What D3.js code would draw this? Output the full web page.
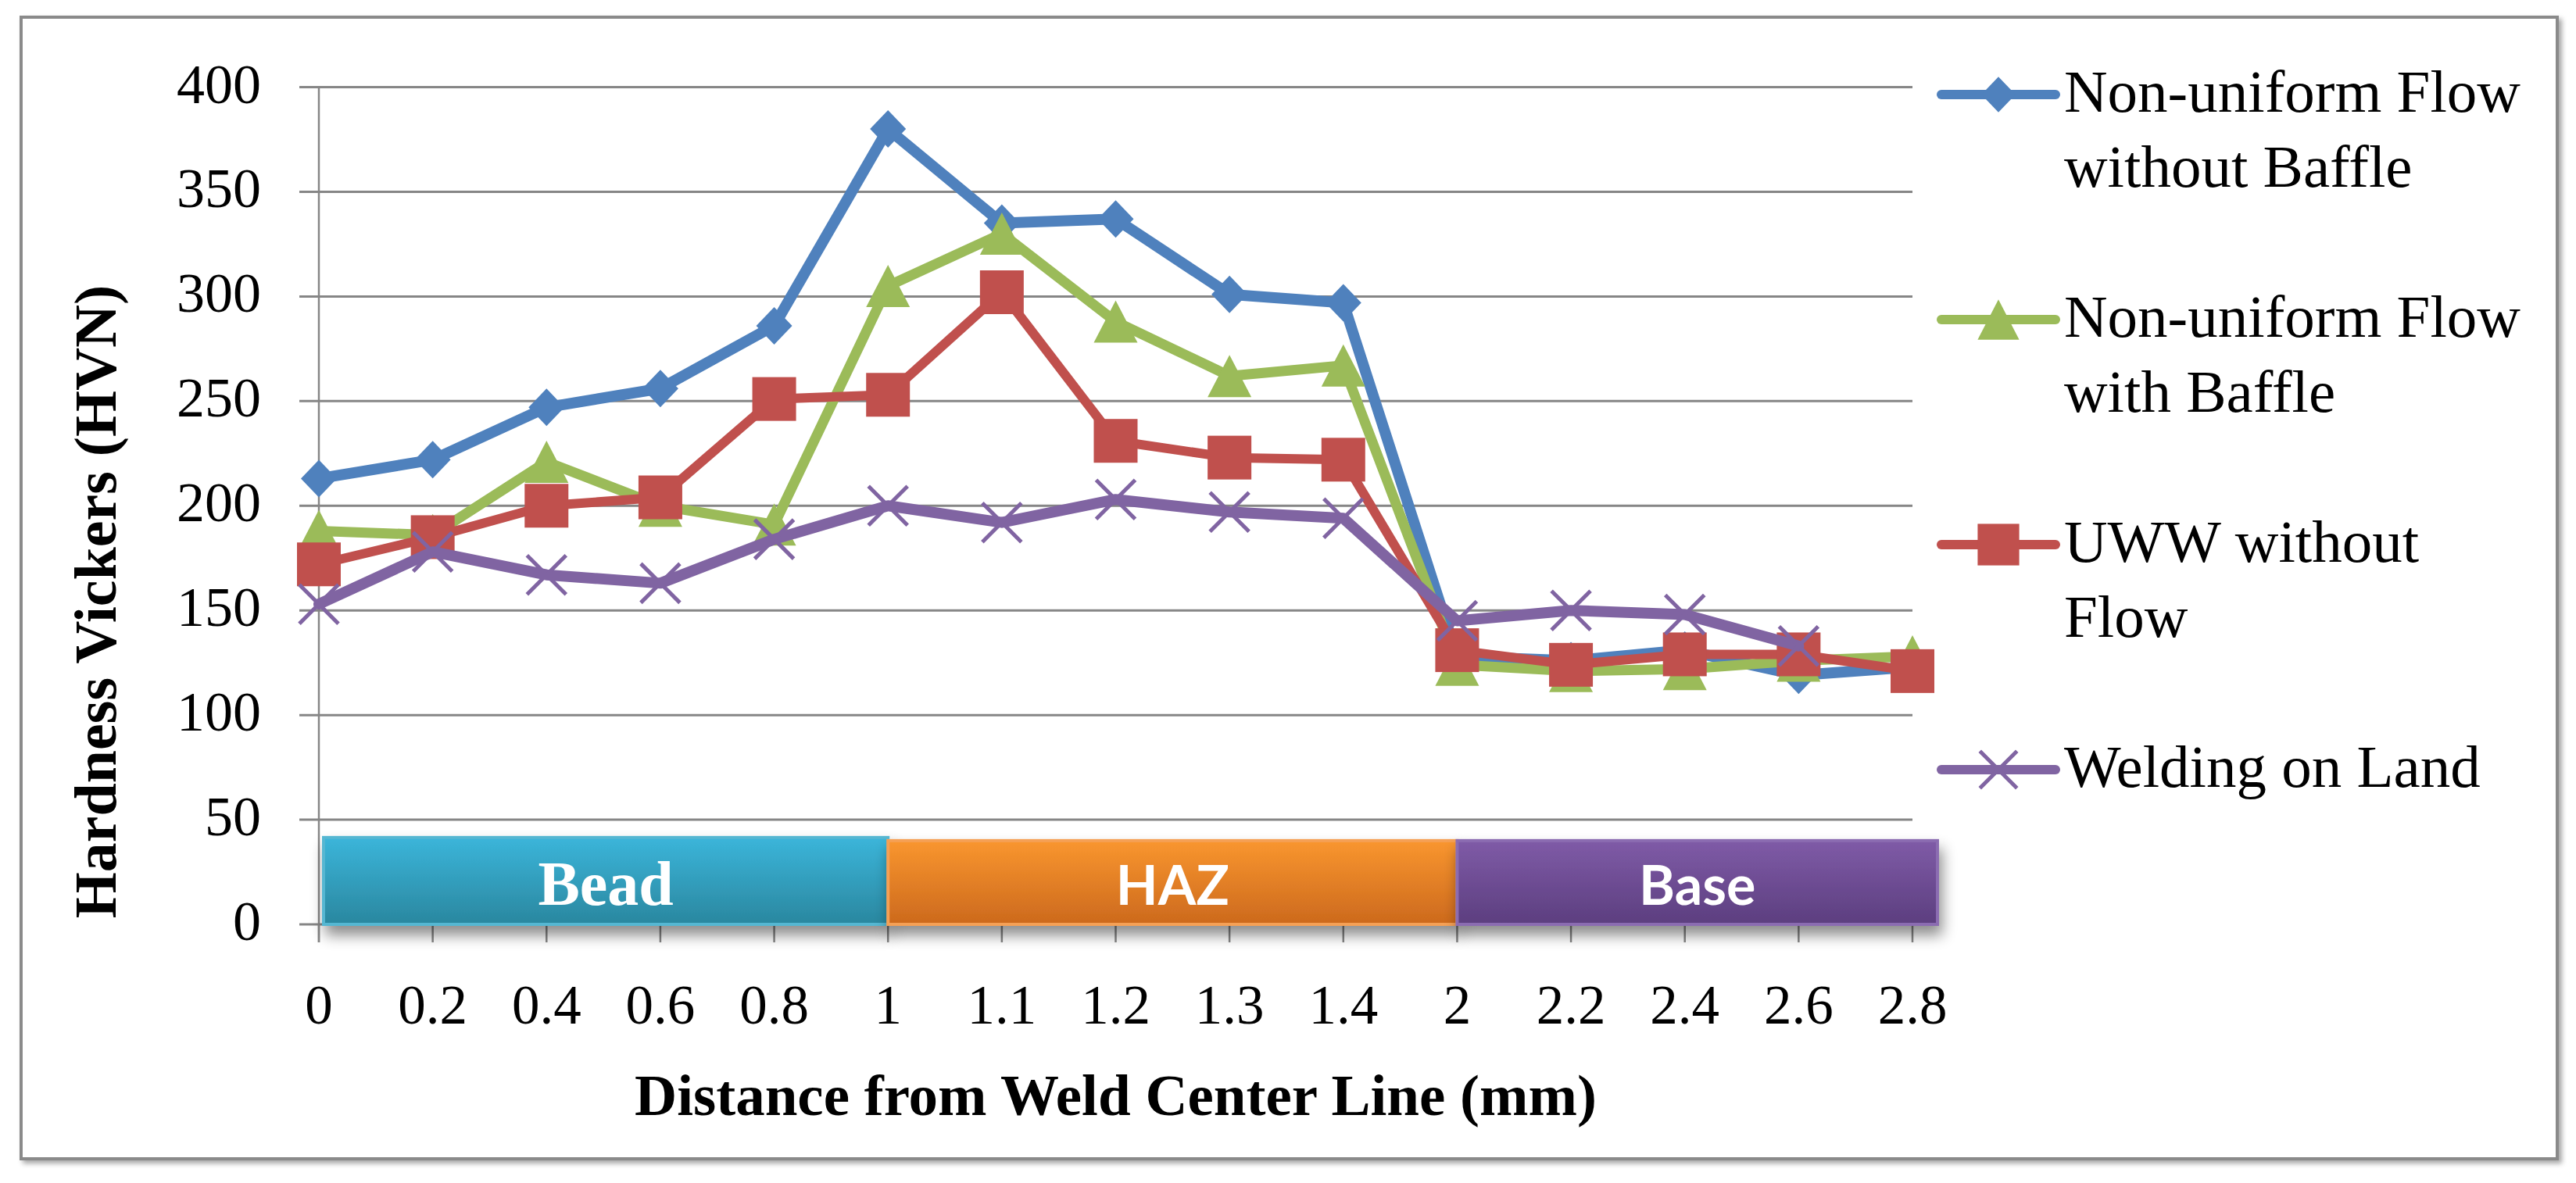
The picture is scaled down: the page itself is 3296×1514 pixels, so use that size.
<!DOCTYPE html>
<html>
<head>
<meta charset="utf-8">
<script src="https://cdn.jsdelivr.net/npm/d3@7"></script>
<style>
  html, body { margin: 0; padding: 0; background: #fff; }
  svg { display: block; }
</style>
</head>
<body>
<svg id="chart" width="3296" height="1514"></svg>
<script>
// ---- data ----
const categories = ["0","0.2","0.4","0.6","0.8","1","1.1","1.2","1.3","1.4","2","2.2","2.4","2.6","2.8"];
const seriesNames = ["Non-uniform Flow without Baffle","Non-uniform Flow with Baffle","UWW without Flow","Welding on Land"];
const legendLines = [["Non-uniform Flow","without Baffle"],["Non-uniform Flow","with Baffle"],["UWW without","Flow"],["Welding on Land"]];
const nonUniformWithoutBaffle = [213,222,247,256,286,380,335,337,301,297,128,126,131,119,123];
const nonUniformWithBaffle    = [188,186,221,200,191,305,330,288,262,267,124,121,122,126,128];
const uwwWithoutFlow          = [172,185,200,204,251,253,302,231,223,222,131,124,129,129,121];
const weldingOnLand           = [153,178,167,163,184,200,192,203,197,194,145,150,148,133,null];
const yTicks = [0,50,100,150,200,250,300,350,400];
const bandNames = ["Bead","HAZ","Base"];
const bandStart = ["0","1","2"];
const bandEnd   = ["1","2","2.8"];
const bandValue = 40;
const yTitle = "Hardness Vickers (HVN)";
const xTitle = "Distance from Weld Center Line (mm)";

(function(){
// ---- styles ----
const colors = ["#4f81bd","#9bbb59","#c0504d","#8064a2"];
const markerTypes = ["diamond","triangle","square","x"];
const allSeries = [nonUniformWithoutBaffle, nonUniformWithBaffle, uwwWithoutFlow, weldingOnLand];

const svg = d3.select("#chart");
const defs = svg.append("defs");

const fs = defs.append("filter").attr("id","frameShadow").attr("x","-5%").attr("y","-5%").attr("width","110%").attr("height","110%");
fs.append("feDropShadow").attr("dx",4).attr("dy",4).attr("stdDeviation",3).attr("flood-color","#000").attr("flood-opacity",0.35);
const bs = defs.append("filter").attr("id","bandShadow").attr("x","-5%").attr("y","-20%").attr("width","110%").attr("height","160%");
bs.append("feDropShadow").attr("dx",4).attr("dy",12).attr("stdDeviation",9).attr("flood-color","#000").attr("flood-opacity",0.45);

const bandGrad = [["#3bb5da","#2a879f"],["#f9962f","#cc691d"],["#7f5ba7","#5c3e7f"]];
const bandStroke = ["#55b7d2","#f5a055","#8b6cb1"];
bandGrad.forEach((g,i)=>{
  const lg = defs.append("linearGradient").attr("id","bg"+i).attr("x1",0).attr("y1",0).attr("x2",0).attr("y2",1);
  lg.append("stop").attr("offset","0%").attr("stop-color",g[0]);
  lg.append("stop").attr("offset","100%").attr("stop-color",g[1]);
});

svg.append("rect").attr("x",27).attr("y",22).attr("width",3245).attr("height",1461)
  .attr("fill","#fff").attr("stroke","#8a8a8a").attr("stroke-width",4).attr("filter","url(#frameShadow)");

const pLeft = 408, pRight = 2447, pTop = 111.5, pBottom = 1183;
const x = d3.scalePoint().domain(categories).range([pLeft,pRight]);
const y = d3.scaleLinear().domain([0,400]).range([pBottom, pTop]);

svg.append("g").selectAll("line").data(yTicks).join("line")
  .attr("x1", pLeft - 25).attr("x2", pRight)
  .attr("y1", d=>y(d)).attr("y2", d=>y(d))
  .attr("stroke","#868686").attr("stroke-width",3);

svg.append("line").attr("x1",pLeft).attr("x2",pLeft).attr("y1",y(400)).attr("y2",pBottom+23)
  .attr("stroke","#868686").attr("stroke-width",2.5);

svg.append("g").selectAll("line").data(categories).join("line")
  .attr("x1", d=>x(d)).attr("x2", d=>x(d)).attr("y1", pBottom).attr("y2", pBottom+23)
  .attr("stroke","#868686").attr("stroke-width",2.5);

svg.append("g").selectAll("text").data(yTicks).join("text")
  .attr("x", 334).attr("y", d=>y(d)+20)
  .attr("text-anchor","end")
  .attr("font-family","'Liberation Serif', 'Times New Roman', serif")
  .attr("font-size",72).attr("fill","#000")
  .text(d=>d);

svg.append("g").selectAll("text").data(categories).join("text")
  .attr("x", d=>x(d)).attr("y", 1310)
  .attr("text-anchor","middle")
  .attr("font-family","'Liberation Serif', 'Times New Roman', serif")
  .attr("font-size",71).attr("fill","#000")
  .text(d=>d);

svg.append("text").attr("x",(pLeft+pRight)/2).attr("y",1427)
  .attr("text-anchor","middle")
  .attr("font-family","'Liberation Serif', 'Times New Roman', serif")
  .attr("font-weight","bold").attr("font-size",75).attr("fill","#000")
  .text(xTitle);
svg.append("text").attr("transform","translate(148,770) rotate(-90)")
  .attr("text-anchor","middle")
  .attr("font-family","'Liberation Serif', 'Times New Roman', serif")
  .attr("font-weight","bold").attr("font-size",76).attr("fill","#000")
  .text(yTitle);

const bandG = svg.append("g");
bandNames.forEach((name,i)=>{
  const x0 = x(bandStart[i]) + (i===0 ? 6 : 0);
  const x1 = x(bandEnd[i]) + (i===bandNames.length-1 ? 32 : 0);
  const yTop = y(bandValue) + (i===0 ? -4 : 0);
  bandG.append("rect").attr("x",x0).attr("y",yTop).attr("width",x1-x0).attr("height",pBottom-yTop)
    .attr("fill","url(#bg"+i+")").attr("stroke",bandStroke[i]).attr("stroke-width",4)
    .attr("filter","url(#bandShadow)");
  const t = bandG.append("text").attr("x",(x0+x1)/2).attr("y",1158)
    .attr("text-anchor","middle").attr("fill","#fff").text(name);
  if (i===0) {
    t.attr("font-family","'Liberation Serif', 'Times New Roman', serif").attr("font-weight","bold").attr("font-size",80);
  } else {
    t.attr("font-family","Lato, 'Open Sans', sans-serif").attr("font-weight","bold").attr("font-size",70);
  }
});

function drawMarker(g, type, cx, cy, color, scale=1) {
  if (type==="diamond") {
    const w=23*scale, h=24*scale;
    g.append("path").attr("d",`M${cx},${cy-h}L${cx+w},${cy}L${cx},${cy+h}L${cx-w},${cy}Z`).attr("fill",color);
  } else if (type==="triangle") {
    const w=28*scale, h=27*scale;
    g.append("path").attr("d",`M${cx},${cy-h}L${cx+w},${cy+h}L${cx-w},${cy+h}Z`).attr("fill",color);
  } else if (type==="square") {
    const s=28*scale;
    g.append("rect").attr("x",cx-s).attr("y",cy-s).attr("width",2*s).attr("height",2*s).attr("fill",color);
  } else if (type==="x") {
    const s=25*scale;
    g.append("path").attr("d",`M${cx-s},${cy-s}L${cx+s},${cy+s}M${cx+s},${cy-s}L${cx-s},${cy+s}`)
      .attr("stroke",color).attr("stroke-width",5).attr("fill","none");
  }
}

const lineWidths = [14,13,12,14];
allSeries.forEach((vals,si)=>{
  const g = svg.append("g");
  const pts = categories.map((c,i)=>({c, v: vals[i]}));
  const line = d3.line().defined(d=>d.v!==null).x(d=>x(d.c)).y(d=>y(d.v));
  g.append("path").datum(pts).attr("d",line).attr("fill","none")
    .attr("stroke",colors[si]).attr("stroke-width",lineWidths[si])
    .attr("stroke-linejoin","round").attr("stroke-linecap","round");
  pts.filter(d=>d.v!==null).forEach(d=>drawMarker(g, markerTypes[si], x(d.c), y(d.v), colors[si]));
});

const legendX0 = 2484, legendX1 = 2630, legendTextX = 2641, legendY0 = 121, legendStep = 288;
seriesNames.forEach((name,i)=>{
  const ly = legendY0 + i*legendStep;
  const g = svg.append("g");
  g.append("line").attr("x1",legendX0).attr("x2",legendX1).attr("y1",ly).attr("y2",ly)
    .attr("stroke",colors[i]).attr("stroke-width",12).attr("stroke-linecap","round");
  drawMarker(g, markerTypes[i], (legendX0+legendX1)/2, ly, colors[i], 0.95);
  const t = g.append("text").attr("x",legendTextX).attr("y",ly+22)
    .attr("font-family","'Liberation Serif', 'Times New Roman', serif")
    .attr("font-size",77).attr("fill","#000");
  legendLines[i].forEach((ln,k)=>{
    t.append("tspan").attr("x",legendTextX).attr("dy", k===0 ? 0 : 96).text(ln);
  });
});
})();
</script>
</body>
</html>
